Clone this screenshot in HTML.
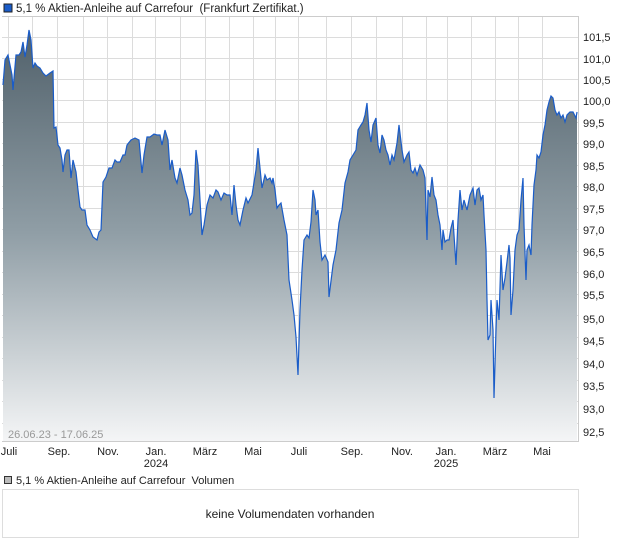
<!DOCTYPE html>
<html><head><meta charset="utf-8"><style>
body{margin:0;background:#fff;width:620px;height:546px;overflow:hidden;font-family:"Liberation Sans",sans-serif;}
svg{position:absolute;left:0;top:0}
</style></head><body>
<svg width="620" height="546" viewBox="0 0 620 546" xmlns="http://www.w3.org/2000/svg" font-family="Liberation Sans, sans-serif">
<defs>
<linearGradient id="g" x1="0" y1="25" x2="0" y2="441" gradientUnits="userSpaceOnUse">
<stop offset="0" stop-color="#4f5f69"/>
<stop offset="0.5" stop-color="#909ea6"/>
<stop offset="1" stop-color="#f4f5f6"/>
</linearGradient>
</defs>
<rect x="4" y="4" width="8" height="8" fill="#1a5cc8" stroke="#222" stroke-width="1"/>
<text x="16" y="12" font-size="11.5" fill="#222">5,1 % Aktien-Anleihe auf Carrefour&#160; (Frankfurt Zertifikat.)</text>
<g stroke="#dcdcdc" stroke-width="1">
<path d="M2 16.5H578M2 37.5H578M2 58.5H578M2 79.5H578M2 100.5H578M2 122.5H578M2 143.5H578M2 165.5H578M2 186.5H578M2 208.5H578M2 229.5H578M2 251.5H578M2 272.5H578M2 294.5H578M2 315.5H578M2 337.5H578M2 358.5H578M2 380.5H578M2 401.5H578M2 423.5H578"/>
<path d="M8.5 16V441M32.5 16V441M57.5 16V441M83.5 16V441M107.5 16V441M132.5 16V441M155.5 16V441M180.5 16V441M205.5 16V441M229.5 16V441M253.5 16V441M275.5 16V441M298.5 16V441M326.5 16V441M351.5 16V441M376.5 16V441M402.5 16V441M426.5 16V441M447.5 16V441M471.5 16V441M495.5 16V441M518.5 16V441M542.5 16V441"/>
</g>
<path fill="url(#g)" stroke="none" d="M3 441 L3 85 L5 60 L8 55 L10 65 L12 75 L13 90 L14 78 L16 55 L19 55 L21 52 L23 42 L25 57 L27 45 L29 30 L31 40 L33 68 L35 63 L37 66 L40 68 L43 73 L46 76 L50 73 L53 71 L54 128 L56 127 L58 145 L60 148 L62 160 L63 172 L65 155 L67 150 L69 150 L71 178 L73 160 L76 172 L78 190 L80 207 L82 210 L85 210 L87 225 L90 230 L93 237 L97 240 L99 232 L101 230 L103 182 L106 177 L109 168 L112 168 L115 160 L117 162 L120 162 L123 155 L125 155 L127 145 L131 140 L135 138 L139 140 L142 173 L144 155 L147 137 L150 137 L154 134 L157 135 L160 135 L162 145 L165 130 L168 140 L170 170 L172 160 L175 178 L177 183 L180 168 L182 175 L185 190 L188 200 L190 215 L192 213 L194 195 L196 150 L198 165 L200 200 L202 235 L204 225 L207 205 L210 195 L213 198 L216 190 L218 192 L221 200 L224 193 L227 195 L230 195 L232 215 L234 185 L236 205 L238 220 L240 225 L243 210 L246 198 L248 203 L252 195 L256 170 L258 148 L260 168 L262 188 L265 175 L267 180 L270 178 L272 183 L273 178 L275 190 L277 208 L279 205 L281 203 L284 220 L287 235 L289 280 L292 300 L294 315 L296 337 L298 375 L300 310 L302 270 L304 240 L307 235 L309 238 L311 222 L313 190 L315 200 L316 215 L318 210 L320 242 L322 260 L325 255 L328 262 L329 297 L333 265 L336 250 L339 223 L342 210 L345 183 L348 172 L350 160 L353 155 L356 150 L358 130 L361 125 L363 122 L365 115 L367 103 L369 130 L371 142 L373 125 L376 118 L378 145 L380 153 L382 135 L384 140 L386 150 L388 155 L390 165 L392 155 L394 160 L397 143 L399 125 L402 150 L404 162 L407 155 L409 152 L411 170 L413 173 L415 168 L417 175 L420 165 L423 170 L425 178 L426 210 L427 240 L428 190 L430 197 L432 177 L434 195 L436 200 L438 215 L440 225 L442 250 L443 230 L445 242 L447 240 L449 240 L451 228 L453 220 L455 250 L456 265 L458 220 L460 190 L462 210 L464 200 L467 210 L470 195 L473 188 L475 205 L477 190 L479 188 L481 200 L483 195 L484 215 L486 250 L487 300 L488 340 L490 335 L491 300 L493 330 L494 398 L496 330 L497 300 L499 320 L501 255 L503 290 L505 278 L507 262 L509 245 L510 258 L511 315 L513 290 L515 250 L517 235 L519 230 L521 200 L523 178 L524 225 L526 280 L527 250 L529 245 L531 255 L532 225 L534 185 L536 170 L537 155 L539 158 L541 152 L543 135 L545 125 L547 110 L549 102 L551 96 L553 98 L555 110 L557 115 L559 112 L561 118 L563 115 L565 122 L567 115 L570 112 L573 112 L576 118 L577 112 L577 441 Z"/>
<path fill="none" stroke="#1a5cc8" stroke-width="1.2" d="M3 85 L5 60 L8 55 L10 65 L12 75 L13 90 L14 78 L16 55 L19 55 L21 52 L23 42 L25 57 L27 45 L29 30 L31 40 L33 68 L35 63 L37 66 L40 68 L43 73 L46 76 L50 73 L53 71 L54 128 L56 127 L58 145 L60 148 L62 160 L63 172 L65 155 L67 150 L69 150 L71 178 L73 160 L76 172 L78 190 L80 207 L82 210 L85 210 L87 225 L90 230 L93 237 L97 240 L99 232 L101 230 L103 182 L106 177 L109 168 L112 168 L115 160 L117 162 L120 162 L123 155 L125 155 L127 145 L131 140 L135 138 L139 140 L142 173 L144 155 L147 137 L150 137 L154 134 L157 135 L160 135 L162 145 L165 130 L168 140 L170 170 L172 160 L175 178 L177 183 L180 168 L182 175 L185 190 L188 200 L190 215 L192 213 L194 195 L196 150 L198 165 L200 200 L202 235 L204 225 L207 205 L210 195 L213 198 L216 190 L218 192 L221 200 L224 193 L227 195 L230 195 L232 215 L234 185 L236 205 L238 220 L240 225 L243 210 L246 198 L248 203 L252 195 L256 170 L258 148 L260 168 L262 188 L265 175 L267 180 L270 178 L272 183 L273 178 L275 190 L277 208 L279 205 L281 203 L284 220 L287 235 L289 280 L292 300 L294 315 L296 337 L298 375 L300 310 L302 270 L304 240 L307 235 L309 238 L311 222 L313 190 L315 200 L316 215 L318 210 L320 242 L322 260 L325 255 L328 262 L329 297 L333 265 L336 250 L339 223 L342 210 L345 183 L348 172 L350 160 L353 155 L356 150 L358 130 L361 125 L363 122 L365 115 L367 103 L369 130 L371 142 L373 125 L376 118 L378 145 L380 153 L382 135 L384 140 L386 150 L388 155 L390 165 L392 155 L394 160 L397 143 L399 125 L402 150 L404 162 L407 155 L409 152 L411 170 L413 173 L415 168 L417 175 L420 165 L423 170 L425 178 L426 210 L427 240 L428 190 L430 197 L432 177 L434 195 L436 200 L438 215 L440 225 L442 250 L443 230 L445 242 L447 240 L449 240 L451 228 L453 220 L455 250 L456 265 L458 220 L460 190 L462 210 L464 200 L467 210 L470 195 L473 188 L475 205 L477 190 L479 188 L481 200 L483 195 L484 215 L486 250 L487 300 L488 340 L490 335 L491 300 L493 330 L494 398 L496 330 L497 300 L499 320 L501 255 L503 290 L505 278 L507 262 L509 245 L510 258 L511 315 L513 290 L515 250 L517 235 L519 230 L521 200 L523 178 L524 225 L526 280 L527 250 L529 245 L531 255 L532 225 L534 185 L536 170 L537 155 L539 158 L541 152 L543 135 L545 125 L547 110 L549 102 L551 96 L553 98 L555 110 L557 115 L559 112 L561 118 L563 115 L565 122 L567 115 L570 112 L573 112 L576 118 L577 112"/>
<path d="M2 16.5H578.5V441.5H2" fill="none" stroke="#ccc"/>
<g font-size="11" fill="#222">
<text x="583" y="41">101,5</text><text x="583" y="63">101,0</text><text x="583" y="84">100,5</text><text x="583" y="105">100,0</text>
<text x="583" y="127">99,5</text><text x="583" y="148">99,0</text><text x="583" y="170">98,5</text><text x="583" y="191">98,0</text>
<text x="583" y="213">97,5</text><text x="583" y="234">97,0</text><text x="583" y="256">96,5</text><text x="583" y="278">96,0</text>
<text x="583" y="299">95,5</text><text x="583" y="323">95,0</text><text x="583" y="345">94,5</text><text x="583" y="368">94,0</text>
<text x="583" y="390">93,5</text><text x="583" y="413">93,0</text><text x="583" y="436">92,5</text>
</g>
<text x="8" y="438" font-size="11" fill="#999">26.06.23 - 17.06.25</text>
<g font-size="11" fill="#222" text-anchor="middle">
<text x="9" y="455">Juli</text><text x="59" y="455">Sep.</text><text x="108" y="455">Nov.</text><text x="156" y="455">Jan.</text><text x="156" y="467">2024</text>
<text x="205" y="455">März</text><text x="253" y="455">Mai</text><text x="299" y="455">Juli</text><text x="352" y="455">Sep.</text><text x="402" y="455">Nov.</text>
<text x="446" y="455">Jan.</text><text x="446" y="467">2025</text><text x="495" y="455">März</text><text x="542" y="455">Mai</text>
</g>
<rect x="4.5" y="476.5" width="7" height="7" fill="#bbb" stroke="#333"/>
<text x="16" y="484" font-size="11" fill="#222">5,1 % Aktien-Anleihe auf Carrefour&#160; Volumen</text>
<rect x="2.5" y="489.5" width="576" height="48" fill="#fff" stroke="#ddd"/>
<text x="290" y="518" font-size="12" fill="#222" text-anchor="middle">keine Volumendaten vorhanden</text>
</svg>
</body></html>
